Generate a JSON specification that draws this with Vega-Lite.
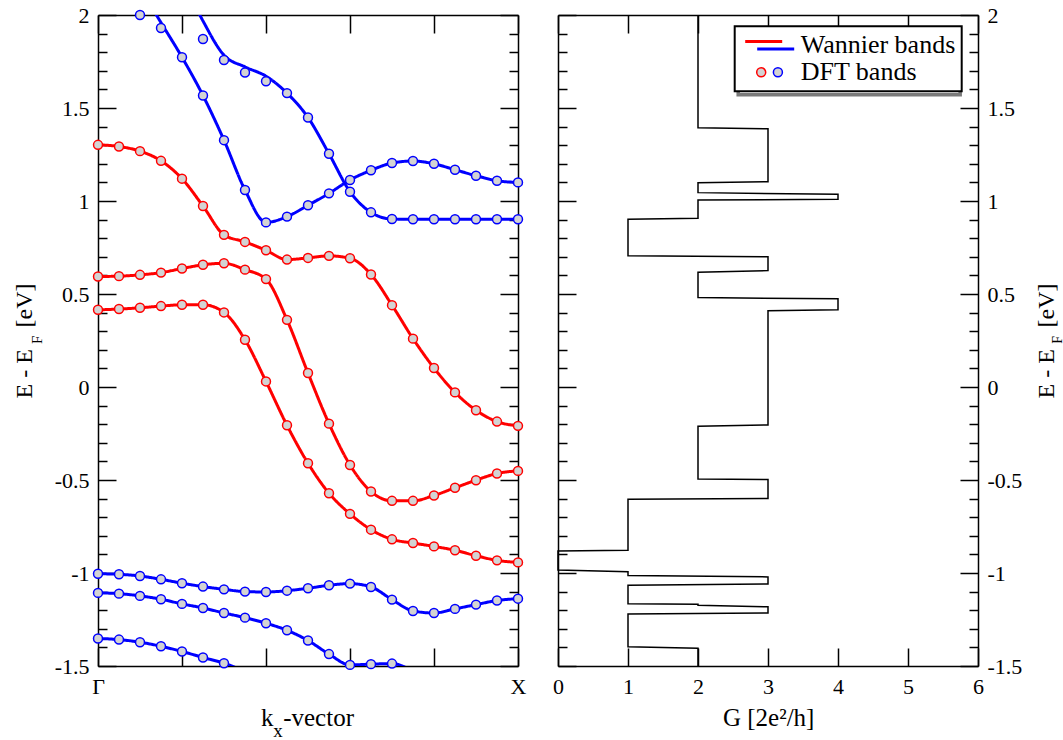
{
  "$schema": "https://vega.github.io/schema/vega-lite/v6.json",
  "padding": {"left": 12, "top": 4, "right": 0, "bottom": 0},
  "bounds": "flush",
  "spacing": 40,
  "config": {
    "view": {"stroke": null},
    "axis": {
      "labelFont": "Liberation Serif", "labelFontSize": 22, "labelColor": "#000",
      "titleFont": "Liberation Serif", "titleFontSize": 24, "titleFontWeight": "normal", "titleColor": "#000",
      "domainColor": "#000", "domainWidth": 1.5, "tickColor": "#000", "tickWidth": 1.5,
      "grid": false, "labelFlush": false, "labelOverlap": false, "labelBound": false, "labelPadding": 27
    }
  },
  "datasets": {
    "wannier": [
      {"band":"R1","family":"red","k":0,"E":1.302},{"band":"R1","family":"red","k":1,"E":1.293},{"band":"R1","family":"red","k":2,"E":1.268},{"band":"R1","family":"red","k":3,"E":1.216},{"band":"R1","family":"red","k":4,"E":1.120},{"band":"R1","family":"red","k":5,"E":0.973},{"band":"R1","family":"red","k":6,"E":0.818},{"band":"R1","family":"red","k":7,"E":0.780},{"band":"R1","family":"red","k":8,"E":0.735},{"band":"R1","family":"red","k":9,"E":0.685},{"band":"R1","family":"red","k":10,"E":0.694},{"band":"R1","family":"red","k":11,"E":0.705},{"band":"R1","family":"red","k":12,"E":0.692},{"band":"R1","family":"red","k":13,"E":0.605},{"band":"R1","family":"red","k":14,"E":0.440},{"band":"R1","family":"red","k":15,"E":0.260},{"band":"R1","family":"red","k":16,"E":0.102},{"band":"R1","family":"red","k":17,"E":-0.029},{"band":"R1","family":"red","k":18,"E":-0.125},{"band":"R1","family":"red","k":19,"E":-0.186},{"band":"R1","family":"red","k":20,"E":-0.209},
      {"band":"R2","family":"red","k":0,"E":0.594},{"band":"R2","family":"red","k":1,"E":0.596},{"band":"R2","family":"red","k":2,"E":0.603},{"band":"R2","family":"red","k":3,"E":0.615},{"band":"R2","family":"red","k":4,"E":0.637},{"band":"R2","family":"red","k":5,"E":0.657},{"band":"R2","family":"red","k":6,"E":0.665},{"band":"R2","family":"red","k":7,"E":0.631},{"band":"R2","family":"red","k":8,"E":0.580},{"band":"R2","family":"red","k":9,"E":0.361},{"band":"R2","family":"red","k":10,"E":0.075},{"band":"R2","family":"red","k":11,"E":-0.197},{"band":"R2","family":"red","k":12,"E":-0.419},{"band":"R2","family":"red","k":13,"E":-0.562},{"band":"R2","family":"red","k":14,"E":-0.612},{"band":"R2","family":"red","k":15,"E":-0.612},{"band":"R2","family":"red","k":16,"E":-0.583},{"band":"R2","family":"red","k":17,"E":-0.542},{"band":"R2","family":"red","k":18,"E":-0.501},{"band":"R2","family":"red","k":19,"E":-0.465},{"band":"R2","family":"red","k":20,"E":-0.451},
      {"band":"R3","family":"red","k":0,"E":0.415},{"band":"R3","family":"red","k":1,"E":0.419},{"band":"R3","family":"red","k":2,"E":0.426},{"band":"R3","family":"red","k":3,"E":0.435},{"band":"R3","family":"red","k":4,"E":0.442},{"band":"R3","family":"red","k":5,"E":0.442},{"band":"R3","family":"red","k":6,"E":0.401},{"band":"R3","family":"red","k":7,"E":0.254},{"band":"R3","family":"red","k":8,"E":0.030},{"band":"R3","family":"red","k":9,"E":-0.206},{"band":"R3","family":"red","k":10,"E":-0.410},{"band":"R3","family":"red","k":11,"E":-0.571},{"band":"R3","family":"red","k":12,"E":-0.682},{"band":"R3","family":"red","k":13,"E":-0.767},{"band":"R3","family":"red","k":14,"E":-0.819},{"band":"R3","family":"red","k":15,"E":-0.839},{"band":"R3","family":"red","k":16,"E":-0.857},{"band":"R3","family":"red","k":17,"E":-0.878},{"band":"R3","family":"red","k":18,"E":-0.907},{"band":"R3","family":"red","k":19,"E":-0.932},{"band":"R3","family":"red","k":20,"E":-0.943},
      {"band":"B1","family":"blue","k":0,"E":-1.004},{"band":"B1","family":"blue","k":1,"E":-1.007},{"band":"B1","family":"blue","k":2,"E":-1.016},{"band":"B1","family":"blue","k":3,"E":-1.034},{"band":"B1","family":"blue","k":4,"E":-1.055},{"band":"B1","family":"blue","k":5,"E":-1.073},{"band":"B1","family":"blue","k":6,"E":-1.088},{"band":"B1","family":"blue","k":7,"E":-1.100},{"band":"B1","family":"blue","k":8,"E":-1.102},{"band":"B1","family":"blue","k":9,"E":-1.095},{"band":"B1","family":"blue","k":10,"E":-1.082},{"band":"B1","family":"blue","k":11,"E":-1.066},{"band":"B1","family":"blue","k":12,"E":-1.057},{"band":"B1","family":"blue","k":13,"E":-1.075},{"band":"B1","family":"blue","k":14,"E":-1.143},{"band":"B1","family":"blue","k":15,"E":-1.204},{"band":"B1","family":"blue","k":16,"E":-1.215},{"band":"B1","family":"blue","k":17,"E":-1.193},{"band":"B1","family":"blue","k":18,"E":-1.170},{"band":"B1","family":"blue","k":19,"E":-1.148},{"band":"B1","family":"blue","k":20,"E":-1.138},
      {"band":"B2","family":"blue","k":0,"E":-1.107},{"band":"B2","family":"blue","k":1,"E":-1.111},{"band":"B2","family":"blue","k":2,"E":-1.123},{"band":"B2","family":"blue","k":3,"E":-1.141},{"band":"B2","family":"blue","k":4,"E":-1.166},{"band":"B2","family":"blue","k":5,"E":-1.188},{"band":"B2","family":"blue","k":6,"E":-1.215},{"band":"B2","family":"blue","k":7,"E":-1.240},{"band":"B2","family":"blue","k":8,"E":-1.270},{"band":"B2","family":"blue","k":9,"E":-1.308},{"band":"B2","family":"blue","k":10,"E":-1.363},{"band":"B2","family":"blue","k":11,"E":-1.436},{"band":"B2","family":"blue","k":12,"E":-1.494},{"band":"B2","family":"blue","k":13,"E":-1.490},{"band":"B2","family":"blue","k":14,"E":-1.487},{"band":"B2","family":"blue","k":15,"E":-1.53},
      {"band":"B3","family":"blue","k":0,"E":-1.352},{"band":"B3","family":"blue","k":1,"E":-1.358},{"band":"B3","family":"blue","k":2,"E":-1.372},{"band":"B3","family":"blue","k":3,"E":-1.394},{"band":"B3","family":"blue","k":4,"E":-1.422},{"band":"B3","family":"blue","k":5,"E":-1.454},{"band":"B3","family":"blue","k":6,"E":-1.485},{"band":"B3","family":"blue","k":7,"E":-1.53},
      {"band":"U1","family":"blue","k":2,"E":2.145},{"band":"U1","family":"blue","k":3,"E":1.959},{"band":"U1","family":"blue","k":4,"E":1.773},{"band":"U1","family":"blue","k":5,"E":1.567},{"band":"U1","family":"blue","k":6,"E":1.327},{"band":"U1","family":"blue","k":7,"E":1.059},{"band":"U1","family":"blue","k":8,"E":0.885},{"band":"U1","family":"blue","k":9,"E":0.916},{"band":"U1","family":"blue","k":10,"E":0.977},{"band":"U1","family":"blue","k":11,"E":1.041},{"band":"U1","family":"blue","k":12,"E":1.113},{"band":"U1","family":"blue","k":13,"E":1.165},{"band":"U1","family":"blue","k":14,"E":1.204},{"band":"U1","family":"blue","k":15,"E":1.215},{"band":"U1","family":"blue","k":16,"E":1.200},{"band":"U1","family":"blue","k":17,"E":1.168},{"band":"U1","family":"blue","k":18,"E":1.136},{"band":"U1","family":"blue","k":19,"E":1.109},{"band":"U1","family":"blue","k":20,"E":1.100},
      {"band":"U2","family":"blue","k":4,"E":2.2},{"band":"U2","family":"blue","k":5,"E":1.968},{"band":"U2","family":"blue","k":6,"E":1.784},{"band":"U2","family":"blue","k":7,"E":1.721},{"band":"U2","family":"blue","k":8,"E":1.671},{"band":"U2","family":"blue","k":9,"E":1.580},{"band":"U2","family":"blue","k":10,"E":1.449},{"band":"U2","family":"blue","k":11,"E":1.254},{"band":"U2","family":"blue","k":12,"E":1.050},{"band":"U2","family":"blue","k":13,"E":0.939},{"band":"U2","family":"blue","k":14,"E":0.903},{"band":"U2","family":"blue","k":15,"E":0.902},{"band":"U2","family":"blue","k":16,"E":0.902},{"band":"U2","family":"blue","k":17,"E":0.902},{"band":"U2","family":"blue","k":18,"E":0.902},{"band":"U2","family":"blue","k":19,"E":0.902},{"band":"U2","family":"blue","k":20,"E":0.902}
    ],
    "dft": [
      {"band":"R1","family":"red","k":0,"E":1.302},{"band":"R1","family":"red","k":1,"E":1.293},{"band":"R1","family":"red","k":2,"E":1.268},{"band":"R1","family":"red","k":3,"E":1.216},{"band":"R1","family":"red","k":4,"E":1.120},{"band":"R1","family":"red","k":5,"E":0.973},{"band":"R1","family":"red","k":6,"E":0.818},{"band":"R1","family":"red","k":7,"E":0.780},{"band":"R1","family":"red","k":8,"E":0.735},{"band":"R1","family":"red","k":9,"E":0.685},{"band":"R1","family":"red","k":10,"E":0.694},{"band":"R1","family":"red","k":11,"E":0.705},{"band":"R1","family":"red","k":12,"E":0.692},{"band":"R1","family":"red","k":13,"E":0.605},{"band":"R1","family":"red","k":14,"E":0.440},{"band":"R1","family":"red","k":15,"E":0.260},{"band":"R1","family":"red","k":16,"E":0.102},{"band":"R1","family":"red","k":17,"E":-0.029},{"band":"R1","family":"red","k":18,"E":-0.125},{"band":"R1","family":"red","k":19,"E":-0.186},{"band":"R1","family":"red","k":20,"E":-0.209},
      {"band":"R2","family":"red","k":0,"E":0.594},{"band":"R2","family":"red","k":1,"E":0.596},{"band":"R2","family":"red","k":2,"E":0.603},{"band":"R2","family":"red","k":3,"E":0.615},{"band":"R2","family":"red","k":4,"E":0.637},{"band":"R2","family":"red","k":5,"E":0.657},{"band":"R2","family":"red","k":6,"E":0.665},{"band":"R2","family":"red","k":7,"E":0.631},{"band":"R2","family":"red","k":8,"E":0.580},{"band":"R2","family":"red","k":9,"E":0.361},{"band":"R2","family":"red","k":10,"E":0.075},{"band":"R2","family":"red","k":11,"E":-0.197},{"band":"R2","family":"red","k":12,"E":-0.419},{"band":"R2","family":"red","k":13,"E":-0.562},{"band":"R2","family":"red","k":14,"E":-0.612},{"band":"R2","family":"red","k":15,"E":-0.612},{"band":"R2","family":"red","k":16,"E":-0.583},{"band":"R2","family":"red","k":17,"E":-0.542},{"band":"R2","family":"red","k":18,"E":-0.501},{"band":"R2","family":"red","k":19,"E":-0.465},{"band":"R2","family":"red","k":20,"E":-0.451},
      {"band":"R3","family":"red","k":0,"E":0.415},{"band":"R3","family":"red","k":1,"E":0.419},{"band":"R3","family":"red","k":2,"E":0.426},{"band":"R3","family":"red","k":3,"E":0.435},{"band":"R3","family":"red","k":4,"E":0.442},{"band":"R3","family":"red","k":5,"E":0.442},{"band":"R3","family":"red","k":6,"E":0.401},{"band":"R3","family":"red","k":7,"E":0.254},{"band":"R3","family":"red","k":8,"E":0.030},{"band":"R3","family":"red","k":9,"E":-0.206},{"band":"R3","family":"red","k":10,"E":-0.410},{"band":"R3","family":"red","k":11,"E":-0.571},{"band":"R3","family":"red","k":12,"E":-0.682},{"band":"R3","family":"red","k":13,"E":-0.767},{"band":"R3","family":"red","k":14,"E":-0.819},{"band":"R3","family":"red","k":15,"E":-0.839},{"band":"R3","family":"red","k":16,"E":-0.857},{"band":"R3","family":"red","k":17,"E":-0.878},{"band":"R3","family":"red","k":18,"E":-0.907},{"band":"R3","family":"red","k":19,"E":-0.932},{"band":"R3","family":"red","k":20,"E":-0.943},
      {"band":"B1","family":"blue","k":0,"E":-1.004},{"band":"B1","family":"blue","k":1,"E":-1.007},{"band":"B1","family":"blue","k":2,"E":-1.016},{"band":"B1","family":"blue","k":3,"E":-1.034},{"band":"B1","family":"blue","k":4,"E":-1.055},{"band":"B1","family":"blue","k":5,"E":-1.073},{"band":"B1","family":"blue","k":6,"E":-1.088},{"band":"B1","family":"blue","k":7,"E":-1.100},{"band":"B1","family":"blue","k":8,"E":-1.102},{"band":"B1","family":"blue","k":9,"E":-1.095},{"band":"B1","family":"blue","k":10,"E":-1.082},{"band":"B1","family":"blue","k":11,"E":-1.066},{"band":"B1","family":"blue","k":12,"E":-1.057},{"band":"B1","family":"blue","k":13,"E":-1.075},{"band":"B1","family":"blue","k":14,"E":-1.143},{"band":"B1","family":"blue","k":15,"E":-1.204},{"band":"B1","family":"blue","k":16,"E":-1.215},{"band":"B1","family":"blue","k":17,"E":-1.193},{"band":"B1","family":"blue","k":18,"E":-1.170},{"band":"B1","family":"blue","k":19,"E":-1.148},{"band":"B1","family":"blue","k":20,"E":-1.138},
      {"band":"B2","family":"blue","k":0,"E":-1.107},{"band":"B2","family":"blue","k":1,"E":-1.111},{"band":"B2","family":"blue","k":2,"E":-1.123},{"band":"B2","family":"blue","k":3,"E":-1.141},{"band":"B2","family":"blue","k":4,"E":-1.166},{"band":"B2","family":"blue","k":5,"E":-1.188},{"band":"B2","family":"blue","k":6,"E":-1.215},{"band":"B2","family":"blue","k":7,"E":-1.240},{"band":"B2","family":"blue","k":8,"E":-1.270},{"band":"B2","family":"blue","k":9,"E":-1.308},{"band":"B2","family":"blue","k":10,"E":-1.363},{"band":"B2","family":"blue","k":11,"E":-1.436},{"band":"B2","family":"blue","k":12,"E":-1.494},{"band":"B2","family":"blue","k":13,"E":-1.490},{"band":"B2","family":"blue","k":14,"E":-1.487},
      {"band":"B3","family":"blue","k":0,"E":-1.352},{"band":"B3","family":"blue","k":1,"E":-1.358},{"band":"B3","family":"blue","k":2,"E":-1.372},{"band":"B3","family":"blue","k":3,"E":-1.394},{"band":"B3","family":"blue","k":4,"E":-1.422},{"band":"B3","family":"blue","k":5,"E":-1.454},{"band":"B3","family":"blue","k":6,"E":-1.485},
      {"band":"U1","family":"blue","k":2,"E":2.0},{"band":"U1","family":"blue","k":3,"E":1.930},{"band":"U1","family":"blue","k":4,"E":1.773},{"band":"U1","family":"blue","k":5,"E":1.567},{"band":"U1","family":"blue","k":6,"E":1.327},{"band":"U1","family":"blue","k":7,"E":1.059},{"band":"U1","family":"blue","k":8,"E":0.885},{"band":"U1","family":"blue","k":9,"E":0.916},{"band":"U1","family":"blue","k":10,"E":0.977},{"band":"U1","family":"blue","k":11,"E":1.041},{"band":"U1","family":"blue","k":12,"E":1.113},{"band":"U1","family":"blue","k":13,"E":1.165},{"band":"U1","family":"blue","k":14,"E":1.204},{"band":"U1","family":"blue","k":15,"E":1.215},{"band":"U1","family":"blue","k":16,"E":1.200},{"band":"U1","family":"blue","k":17,"E":1.168},{"band":"U1","family":"blue","k":18,"E":1.136},{"band":"U1","family":"blue","k":19,"E":1.109},{"band":"U1","family":"blue","k":20,"E":1.100},
      {"band":"U2","family":"blue","k":5,"E":1.871},{"band":"U2","family":"blue","k":6,"E":1.758},{"band":"U2","family":"blue","k":7,"E":1.691},{"band":"U2","family":"blue","k":8,"E":1.644},{"band":"U2","family":"blue","k":9,"E":1.580},{"band":"U2","family":"blue","k":10,"E":1.449},{"band":"U2","family":"blue","k":11,"E":1.254},{"band":"U2","family":"blue","k":12,"E":1.050},{"band":"U2","family":"blue","k":13,"E":0.939},{"band":"U2","family":"blue","k":14,"E":0.903},{"band":"U2","family":"blue","k":15,"E":0.902},{"band":"U2","family":"blue","k":16,"E":0.902},{"band":"U2","family":"blue","k":17,"E":0.902},{"band":"U2","family":"blue","k":18,"E":0.902},{"band":"U2","family":"blue","k":19,"E":0.902},{"band":"U2","family":"blue","k":20,"E":0.902}
    ],
    "steps": [
      {"i":0,"G":2,"E":2.0},{"i":1,"G":2,"E":1.394},{"i":2,"G":3,"E":1.388},{"i":3,"G":3,"E":1.104},{"i":4,"G":2,"E":1.098},{"i":5,"G":2,"E":1.045},{"i":6,"G":4,"E":1.036},{"i":7,"G":4,"E":1.009},{"i":8,"G":2,"E":1.005},{"i":9,"G":2,"E":0.907},{"i":10,"G":1,"E":0.902},{"i":11,"G":1,"E":0.705},{"i":12,"G":3,"E":0.700},{"i":13,"G":3,"E":0.626},{"i":14,"G":2,"E":0.617},{"i":15,"G":2,"E":0.481},{"i":16,"G":4,"E":0.474},{"i":17,"G":4,"E":0.415},{"i":18,"G":3,"E":0.410},{"i":19,"G":3,"E":-0.204},{"i":20,"G":2,"E":-0.211},{"i":21,"G":2,"E":-0.494},{"i":22,"G":3,"E":-0.497},{"i":23,"G":3,"E":-0.599},{"i":24,"G":1,"E":-0.603},{"i":25,"G":1,"E":-0.878},{"i":26,"G":0,"E":-0.882},{"i":27,"G":0,"E":-0.984},{"i":28,"G":1,"E":-0.993},{"i":29,"G":1,"E":-1.014},{"i":30,"G":3,"E":-1.021},{"i":31,"G":3,"E":-1.059},{"i":32,"G":1,"E":-1.066},{"i":33,"G":1,"E":-1.165},{"i":34,"G":2,"E":-1.168},{"i":35,"G":2,"E":-1.174},{"i":36,"G":3,"E":-1.182},{"i":37,"G":3,"E":-1.215},{"i":38,"G":1,"E":-1.220},{"i":39,"G":1,"E":-1.397},{"i":40,"G":2,"E":-1.404},{"i":41,"G":2,"E":-1.5}
    ]
  },
  "hconcat": [
    {
      "width": 420, "height": 651,
      "resolve": {"axis": {"x": "independent", "y": "independent"}},
      "layer": [
        {
          "data": {"name": "wannier"},
          "mark": {"type": "line", "clip": true, "interpolate": "monotone"},
          "encoding": {
            "x": {"field": "k", "type": "quantitative", "scale": {"domain": [0, 20], "nice": false, "zero": false},
              "axis": {"orient": "bottom", "values": [0, 4, 8, 12, 16, 20], "tickSize": -18, "labelPadding": 28,
                "labelExpr": "datum.value == 0 ? 'Γ' : (datum.value == 20 ? 'X' : '')",
                "title": "k", "titleFontSize": 25, "titleX": 162.4, "titleY": 59.3, "titleAlign": "left", "titleBaseline": "alphabetic", "titleAngle": 0}},
            "y": {"field": "E", "type": "quantitative", "scale": {"domain": [-1.5, 2], "nice": false, "zero": false},
              "axis": {"orient": "left",
                "values": [-1.5,-1.4,-1.3,-1.2,-1.1,-1,-0.9,-0.8,-0.7,-0.6,-0.5,-0.4,-0.3,-0.2,-0.1,0,0.1,0.2,0.3,0.4,0.5,0.6,0.7,0.8,0.9,1,1.1,1.2,1.3,1.4,1.5,1.6,1.7,1.8,1.9,2],
                "tickSize": {"condition": {"test": "abs(datum.value*2 - round(datum.value*2)) < 0.01", "value": -18}, "value": -9},
                "labelExpr": "abs(datum.value*2 - round(datum.value*2)) < 0.01 ? (datum.value < 0 ? '-' : '') + format(abs(datum.value), '~g') : ''",
                "title": "E - E\u2002\u2009\u2009[eV]", "titleX": -66.3, "titleY": 325.5, "titleAngle": -90, "titleAlign": "center", "titleBaseline": "alphabetic"}},
            "detail": {"field": "band", "type": "nominal"},
            "color": {"field": "family", "type": "nominal", "scale": {"domain": ["red", "blue"], "range": ["#ff0000", "#0000ff"]}, "legend": null},
            "strokeDash": {"datum": "Ds", "type": "nominal", "scale": {"domain": ["Ws", "Ds"], "range": [[1, 0], [1, 0]]},
              "legend": {"orient": "none", "legendX": 640.2, "legendY": 14.8, "title": null, "padding": 6, "symbolOffset": 16, "labelOffset": 168, "symbolSize": 400, "rowPadding": 1,
                "labelFont": "Liberation Serif", "labelFontSize": 26, "labelOpacity": 0, "labelLimit": 400, "strokeColor": "#7a7a7a",
                "labelExpr": "' '",
                "encode": {
                  "legend": {"update": {"strokeWidth": {"value": 3.5}}},
                  "symbols": {"update": {"opacity": {"value": 0}, "size": {"value": 400}}}}}},
            "strokeWidth": {"datum": "Wannier bands", "type": "ordinal", "scale": {"domain": ["Wannier bands", "DFT bands"], "range": [3, 1.5]},
              "legend": {"orient": "none", "legendX": 636.7, "legendY": 11.3, "title": null, "padding": 6, "symbolOffset": 16, "labelOffset": 18, "symbolSize": 400, "rowPadding": 1,
                "labelFont": "Liberation Serif", "labelFontSize": 26, "labelColor": "#000", "labelLimit": 400, "strokeColor": "#000", "fillColor": "#ffffff",
                "encode": {
                  "legend": {"update": {"strokeWidth": {"value": 2}}},
                  "symbols": {"update": {
                  "shape": {"signal": "datum.value == 'DFT bands' ? 'M-0.4,0A0.45,0.45,0,1,1,-1.3,0A0.45,0.45,0,1,1,-0.4,0Z' : 'M-2.45,-0.38H1.25'"},
                  "size": {"value": 400}, "stroke": {"value": "#ff0000"},
                  "strokeWidth": {"signal": "datum.value == 'DFT bands' ? 1.5 : 3"},
                  "fill": {"signal": "datum.value == 'DFT bands' ? '#d3d3d3' : 'transparent'"},
                  "strokeDash": {"value": []}, "opacity": {"value": 1}}}}}},
            "opacity": {"datum": "W", "type": "ordinal", "scale": {"domain": ["W", "D"], "range": [1, 1]},
              "legend": {"orient": "none", "legendX": 636.7, "legendY": 11.3, "title": null, "padding": 6, "symbolOffset": 16, "labelOffset": 18, "symbolSize": 400, "rowPadding": 1,
                "labelFont": "Liberation Serif", "labelFontSize": 26, "labelOpacity": 0, "labelLimit": 400,
                "labelExpr": "' '",
                "encode": {"symbols": {"update": {
                  "shape": {"signal": "datum.value == 'D' ? 'M1.27,0A0.45,0.45,0,1,1,0.37,0A0.45,0.45,0,1,1,1.27,0Z' : 'M-1.25,0.38H2.45'"},
                  "size": {"value": 400}, "stroke": {"value": "#0000ff"},
                  "strokeWidth": {"signal": "datum.value == 'D' ? 1.5 : 3"},
                  "fill": {"signal": "datum.value == 'D' ? '#d3d3d3' : 'transparent'"},
                  "strokeDash": {"value": []}, "opacity": {"value": 1}}}}}}
          }
        },
        {
          "data": {"name": "dft"},
          "mark": {"type": "point", "shape": "circle", "size": 80, "strokeWidth": 1.5, "fill": "#d3d3d3", "filled": false, "opacity": 1},
          "encoding": {
            "x": {"field": "k", "type": "quantitative",
              "axis": {"orient": "top", "values": [0, 4, 8, 12, 16, 20], "tickSize": -18, "labels": false,
                "title": "x", "titleFontSize": 19, "titleX": 174.7, "titleY": 721.3, "titleAlign": "left", "titleBaseline": "alphabetic", "titleAngle": 0}},
            "y": {"field": "E", "type": "quantitative",
              "axis": {"orient": "right",
                "values": [-1.5,-1.4,-1.3,-1.2,-1.1,-1,-0.9,-0.8,-0.7,-0.6,-0.5,-0.4,-0.3,-0.2,-0.1,0,0.1,0.2,0.3,0.4,0.5,0.6,0.7,0.8,0.9,1,1.1,1.2,1.3,1.4,1.5,1.6,1.7,1.8,1.9,2],
                "tickSize": {"condition": {"test": "abs(datum.value*2 - round(datum.value*2)) < 0.01", "value": -18}, "value": -9},
                "labels": false,
                "title": "F", "titleFontSize": 15, "titleX": -476.5, "titleY": 324.3, "titleAngle": -90, "titleAlign": "center", "titleBaseline": "alphabetic"}},
            "stroke": {"field": "family", "type": "nominal", "scale": {"domain": ["red", "blue"], "range": ["#ff0000", "#0000ff"]}, "legend": null}
          }
        }
      ]
    },
    {
      "width": 420, "height": 651,
      "resolve": {"axis": {"x": "independent", "y": "independent"}},
      "layer": [
        {
          "data": {"name": "steps"},
          "mark": {"type": "line", "stroke": "#000", "strokeWidth": 1.5},
          "encoding": {
            "x": {"field": "G", "type": "quantitative", "scale": {"domain": [0, 6], "nice": false, "zero": false},
              "axis": {"orient": "bottom", "values": [0, 1, 2, 3, 4, 5, 6], "tickSize": -18, "labelPadding": 28, "format": "d",
                "title": "G [2e²/h]", "titleFontSize": 25, "titleX": 210.2, "titleY": 59.3, "titleAlign": "center", "titleBaseline": "alphabetic", "titleAngle": 0}},
            "y": {"field": "E", "type": "quantitative", "scale": {"domain": [-1.5, 2], "nice": false, "zero": false},
              "axis": {"orient": "right",
                "values": [-1.5,-1.4,-1.3,-1.2,-1.1,-1,-0.9,-0.8,-0.7,-0.6,-0.5,-0.4,-0.3,-0.2,-0.1,0,0.1,0.2,0.3,0.4,0.5,0.6,0.7,0.8,0.9,1,1.1,1.2,1.3,1.4,1.5,1.6,1.7,1.8,1.9,2],
                "tickSize": {"condition": {"test": "abs(datum.value*2 - round(datum.value*2)) < 0.01", "value": -18}, "value": -9},
                "labelAlign": "left",
                "labelExpr": "abs(datum.value*2 - round(datum.value*2)) < 0.01 ? (datum.value < 0 ? '-' : '') + format(abs(datum.value), '~g') : ''",
                "title": "E - E\u2002\u2009\u2009[eV]", "titleX": 75.3, "titleY": 325.5, "titleAngle": -90, "titleAlign": "center", "titleBaseline": "alphabetic"}},
            "order": {"field": "i", "type": "quantitative"}
          }
        },
        {
          "data": {"name": "steps"},
          "mark": {"type": "line", "strokeOpacity": 0},
          "encoding": {
            "x": {"field": "G", "type": "quantitative",
              "axis": {"orient": "top", "values": [0, 1, 2, 3, 4, 5, 6], "tickSize": -18, "labels": false,
                "title": "-vector", "titleFontSize": 25, "titleX": -275.3, "titleY": 710.3, "titleAlign": "left", "titleBaseline": "alphabetic", "titleAngle": 0}},
            "y": {"field": "E", "type": "quantitative",
              "axis": {"orient": "left",
                "values": [-1.5,-1.4,-1.3,-1.2,-1.1,-1,-0.9,-0.8,-0.7,-0.6,-0.5,-0.4,-0.3,-0.2,-0.1,0,0.1,0.2,0.3,0.4,0.5,0.6,0.7,0.8,0.9,1,1.1,1.2,1.3,1.4,1.5,1.6,1.7,1.8,1.9,2],
                "tickSize": {"condition": {"test": "abs(datum.value*2 - round(datum.value*2)) < 0.01", "value": -18}, "value": -9},
                "labels": false,
                "title": "F", "titleFontSize": 14, "titleX": 503.5, "titleY": 324.3, "titleAngle": -90, "titleAlign": "center", "titleBaseline": "alphabetic"}},
            "order": {"field": "i", "type": "quantitative"}
          }
        }
      ]
    }
  ]
}
